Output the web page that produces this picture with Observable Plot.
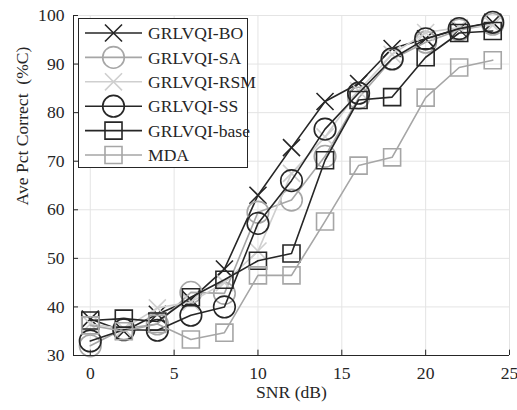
<!DOCTYPE html>
<html><head><meta charset="utf-8">
<script src="https://cdn.jsdelivr.net/npm/d3@7"></script>
<script src="https://cdn.jsdelivr.net/npm/@observablehq/plot@0.6"></script>
<style>
body{margin:0;background:#fff}
#wrap{position:relative;width:517px;height:410px;background:#fff}
#legend{position:absolute;left:0;top:0}
</style>
</head><body><div id="wrap"></div>
<script>
const snr = [0, 2, 4, 6, 8, 10, 12, 14, 16, 18, 20, 22, 24];
const seriesNames = ["GRLVQI-BO", "GRLVQI-SA", "GRLVQI-RSM", "GRLVQI-SS", "GRLVQI-base", "MDA"];
const grlvqiBO   = [37.5, 35.0, 38.5, 41.5, 47.8, 63.0, 72.8, 82.3, 86.0, 93.2, 95.2, 97.2, 98.6];
const grlvqiSA   = [32.0, 35.5, 36.5, 43.0, 42.8, 59.5, 62.0, 71.0, 83.0, 91.0, 94.5, 97.0, 98.2];
const grlvqiRSM  = [36.5, 35.5, 39.8, 41.0, 45.0, 51.5, 67.5, 75.0, 84.5, 92.0, 96.5, 97.5, 98.0];
const grlvqiSS   = [33.0, 35.3, 35.2, 38.3, 40.0, 57.2, 66.0, 76.6, 84.0, 91.1, 95.2, 97.3, 98.6];
const grlvqiBase = [37.2, 37.6, 37.0, 42.0, 45.6, 49.5, 51.0, 70.2, 82.6, 83.2, 91.4, 96.4, 96.8];
const mda        = [36.2, 35.0, 36.5, 33.3, 34.7, 46.5, 46.5, 57.6, 69.1, 70.8, 83.1, 89.3, 90.8];
const xTicks = [0, 5, 10, 15, 20, 25];
const yTicks = [30, 40, 50, 60, 70, 80, 90, 100];
const xLabel = "SNR (dB)";
const yLabel = "Ave Pct Correct\u00a0\u00a0(%C)";

const values = [grlvqiBO, grlvqiSA, grlvqiRSM, grlvqiSS, grlvqiBase, mda];
const styles = [
  {color: "#262626", symbol: "times",  r: 7.8},
  {color: "#a6a6a6", symbol: "circle", r: 10.8},
  {color: "#cfcfcf", symbol: "times",  r: 7.8},
  {color: "#262626", symbol: "circle", r: 10.8},
  {color: "#262626", symbol: "square", r: 9.6},
  {color: "#a6a6a6", symbol: "square", r: 9.6}
];
const rows = seriesNames.flatMap((name, k) => snr.map((x, i) => ({series: name, x, y: values[k][i]})));

const font = "Liberation Serif, 'Times New Roman', serif";
const fs = 17.6;
const sw = 1.6;

const seriesMarks = seriesNames.flatMap((name, k) => {
  const d = rows.filter(r => r.series === name);
  const s = styles[k];
  return [
    Plot.line(d, {x: "x", y: "y", stroke: s.color, strokeWidth: sw}),
    Plot.dot(d, {x: "x", y: "y", symbol: s.symbol, r: s.r, stroke: s.color, strokeWidth: sw, fill: "none"})
  ];
});

const chart = Plot.plot({
  width: 517, height: 410,
  marginLeft: 73, marginRight: 8, marginTop: 15, marginBottom: 55,
  style: {fontFamily: font, fontSize: fs + "px", background: "#fff", color: "#262626"},
  x: {domain: [-1, 25]},
  y: {domain: [30, 100]},
  marks: [
    Plot.ruleX(xTicks, {stroke: "#e4e4e4", strokeWidth: 1}),
    Plot.ruleY(yTicks, {stroke: "#e4e4e4", strokeWidth: 1}),
    ...seriesMarks,
    Plot.ruleX([-1], {stroke: "#262626", strokeWidth: 1}),
    Plot.ruleY([30], {stroke: "#262626", strokeWidth: 1}),
    Plot.ruleX(xTicks, {y1: 30, y2: 31.1, stroke: "#262626"}),
    Plot.ruleY(yTicks, {x1: -1, x2: -0.7, stroke: "#262626"}),
    Plot.axisX(xTicks, {tickSize: 0, tickPadding: 11, label: null, fontSize: fs, tickFormat: d => String(d)}),
    Plot.axisY(yTicks, {tickSize: 0, tickPadding: 9, label: null, fontSize: fs, tickFormat: d => String(d)}),
    Plot.text([xLabel], {frameAnchor: "bottom", dy: 42, text: d => d, fontSize: fs, fill: "#262626"}),
    Plot.text([yLabel], {frameAnchor: "left", dx: -51, dy: 20, rotate: -90, text: d => d, fontSize: fs, fill: "#262626"})
  ]
});
const wrap = document.getElementById("wrap");
wrap.appendChild(chart);

// legend box
const lg = d3.select(wrap).append("svg").attr("id", "legend")
  .attr("width", 517).attr("height", 410);
const bx = 78, by = 18, bw = 169, bh = 149;
lg.append("rect").attr("x", bx + 0.5).attr("y", by + 0.5).attr("width", bw).attr("height", bh)
  .attr("fill", "#fff").attr("stroke", "#262626").attr("stroke-width", 1);
const symMap = {times: d3.symbolTimes, circle: d3.symbolCircle, square: d3.symbolSquare};
seriesNames.forEach((name, k) => {
  const s = styles[k];
  const cy = by + 15 + k * 24.4;
  const g = lg.append("g");
  g.append("line").attr("x1", 85).attr("x2", 142).attr("y1", cy).attr("y2", cy)
    .attr("stroke", s.color).attr("stroke-width", sw);
  g.append("path").attr("transform", `translate(113.5,${cy})`)
    .attr("d", d3.symbol(symMap[s.symbol], Math.PI * s.r * s.r)())
    .attr("fill", "none").attr("stroke", s.color).attr("stroke-width", sw);
  g.append("text").attr("x", 148).attr("y", cy).attr("dy", "0.35em")
    .attr("font-family", font).attr("font-size", fs).attr("fill", "#262626").text(name);
});
</script>
</body></html>
